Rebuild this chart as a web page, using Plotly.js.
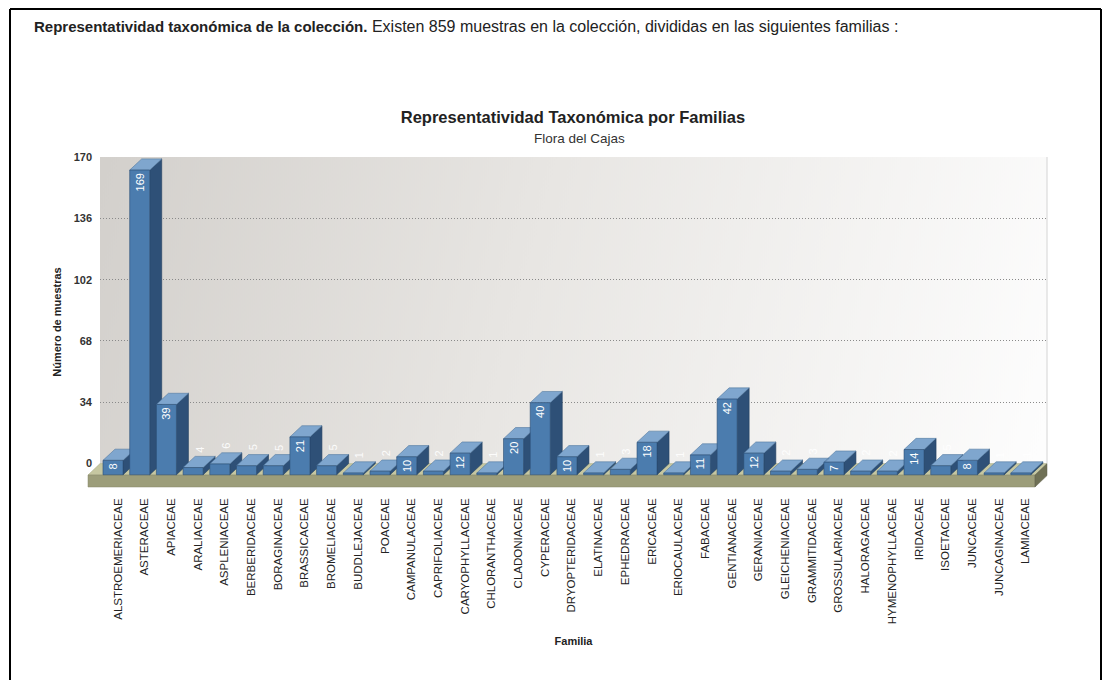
<!DOCTYPE html>
<html>
<head>
<meta charset="utf-8">
<script src="https://cdn.plot.ly/plotly-3.0.1.min.js"></script>
<style>
  html, body { margin: 0; padding: 0; background: #ffffff; }
  #chart { width: 1106px; height: 680px; }
</style>
</head>
<body>
<div id="chart"></div>
<script>
// ---------------- data ----------------
const families = [
  "ALSTROEMERIACEAE", "ASTERACEAE", "APIACEAE", "ARALIACEAE", "ASPLENIACEAE",
  "BERBERIDACEAE", "BORAGINACEAE", "BRASSICACEAE", "BROMELIACEAE", "BUDDLEJACEAE",
  "POACEAE", "CAMPANULACEAE", "CAPRIFOLIACEAE", "CARYOPHYLLACEAE", "CHLORANTHACEAE",
  "CLADONIACEAE", "CYPERACEAE", "DRYOPTERIDACEAE", "ELATINACEAE", "EPHEDRACEAE",
  "ERICACEAE", "ERIOCAULACEAE", "FABACEAE", "GENTIANACEAE", "GERANIACEAE",
  "GLEICHENIACEAE", "GRAMMITIDACEAE", "GROSSULARIACEAE", "HALORAGACEAE", "HYMENOPHYLLACEAE",
  "IRIDACEAE", "ISOETACEAE", "JUNCACEAE", "JUNCAGINACEAE", "LAMIACEAE"
];
const counts = [
  8, 169, 39, 4, 6,
  5, 5, 21, 5, 1,
  2, 10, 2, 12, 1,
  20, 40, 10, 1, 3,
  18, 1, 11, 42, 12,
  2, 3, 7, 2, 2,
  14, 5, 8, 1, 1
];
const yTickValues = [0, 34, 68, 102, 136, 170];
const totalSamples = 859;

// ---------------- geometry (styling only) ----------------
const W = 1106, H = 680;
const M = { l: 100, r: 59, t: 157, b: 193 };
const pw = W - M.l - M.r, ph = H - M.t - M.b;
const px = p => (p - M.l) / pw;          // pixel x -> paper x
const py = p => (H - M.b - p) / ph;      // pixel y -> paper y

const idx = families.map((_, i) => i);
const halfW = 0.375;     // half width of front face (category units)
const dX = 0.45;         // depth offset in x (category units)
const dY = 6.2;          // depth offset in y (value units)
const xRange = [-0.487, 34.98];
const gridRange = [-12.98, 170.05];
const barRange = [gridRange[0] + dY, gridRange[1] + dY];

// side and top faces of the 3D bars
const sideX = [], sideY = [], topX = [], topY = [];
idx.forEach(i => {
  const v = counts[i], l = i - halfW, r = i + halfW;
  sideX.push(r, r, r + dX, r + dX, r, null);
  sideY.push(0, v, v + dY, dY, 0, null);
  topX.push(l, r, r + dX, l + dX, l, null);
  topY.push(v, v, v + dY, v + dY, v, null);
});

const FONT = "Liberation Sans, Arial, Helvetica, sans-serif";

const traces = [
  // empty trace that anchors the value axis (ticks and dotted grid)
  {
    type: "scatter", mode: "markers", x: [], y: [], xaxis: "x", yaxis: "y",
    hoverinfo: "skip", showlegend: false
  },
  {
    type: "scatter", mode: "lines", x: sideX, y: sideY, xaxis: "x", yaxis: "y2",
    fill: "toself", fillcolor: "#2e5077", line: { color: "#22405f", width: 0.6 },
    hoverinfo: "skip", showlegend: false
  },
  {
    type: "scatter", mode: "lines", x: topX, y: topY, xaxis: "x", yaxis: "y2",
    fill: "toself", fillcolor: "#7fa6ce", line: { color: "#52799f", width: 0.6 },
    hoverinfo: "skip", showlegend: false
  },
  {
    type: "bar", x: idx, y: counts, xaxis: "x", yaxis: "y3", width: 0.75,
    marker: { color: "#4b7cae", line: { color: "#2c4d73", width: 0.6 } },
    text: counts.map(String),
    textposition: counts.map(v => v >= 7 ? "inside" : "none"),
    insidetextanchor: "end", textangle: -90, constraintext: "none",
    textfont: { color: "#ffffff", size: 11, family: FONT },
    hovertemplate: "%{customdata}: %{y}<extra></extra>",
    customdata: families, showlegend: false
  }
];

// faint labels above the small bars
const smallLabels = idx.filter(i => counts[i] < 7).map(i => ({
  x: i + dX / 2, y: counts[i] + dY + 1, xref: "x", yref: "y2",
  text: String(counts[i]), showarrow: false, textangle: -90,
  yanchor: "bottom", xanchor: "center",
  font: { color: "rgba(255,255,255,0.9)", size: 11, family: FONT }
}));

// background gradient for the back wall
const cv = document.createElement("canvas");
cv.width = 947; cv.height = 306;
const ctx = cv.getContext("2d");
const g = ctx.createLinearGradient(0, 0, 947, 260);
g.addColorStop(0, "#d3d0cc");
g.addColorStop(0.45, "#e8e6e3");
g.addColorStop(1, "#fdfdfd");
ctx.fillStyle = g; ctx.fillRect(0, 0, 947, 306);
const bgURL = cv.toDataURL("image/png");

const P = (pts) => "M" + pts.map(p => px(p[0]).toFixed(5) + "," + py(p[1]).toFixed(5)).join(" L") + " Z";

const shapes = [
  // floor: top face
  { type: "path", xref: "paper", yref: "paper", layer: "below",
    path: P([[88, 475], [1035, 475], [1047, 463.6], [100, 463.6]]),
    fillcolor: "#c6c7a1", line: { color: "#a9aa85", width: 0.5 } },
  // floor: front face
  { type: "path", xref: "paper", yref: "paper", layer: "below",
    path: P([[88, 475], [1035, 475], [1035, 487], [88, 487]]),
    fillcolor: "#9c9d7a", line: { color: "#85866a", width: 0.5 } },
  // floor: right face
  { type: "path", xref: "paper", yref: "paper", layer: "below",
    path: P([[1035, 475], [1047, 463.6], [1047, 475.6], [1035, 487]]),
    fillcolor: "#6f7055", line: { color: "#5e5f48", width: 0.5 } },
  // back wall right edge
  { type: "line", xref: "paper", yref: "paper", layer: "below",
    x0: px(1047), x1: px(1047), y0: py(157), y1: py(463.6),
    line: { color: "#d4d4d4", width: 1 } },
  // page frame
  { type: "line", xref: "paper", yref: "paper", x0: px(10), x1: px(10), y0: py(9), y1: py(690),
    line: { color: "#000", width: 2 } },
  { type: "line", xref: "paper", yref: "paper", x0: px(10), x1: px(1101), y0: py(9), y1: py(9),
    line: { color: "#000", width: 2 } },
  { type: "line", xref: "paper", yref: "paper", x0: px(1101), x1: px(1101), y0: py(9), y1: py(690),
    line: { color: "#000", width: 2 } }
];

const annotations = [
  { xref: "paper", yref: "paper", x: px(32), y: py(27), xanchor: "left", yanchor: "middle",
    showarrow: false, align: "left",
    text: "<b>Representatividad taxonómica de la colección.</b><span style=\"font-size:16px\"> Existen " + totalSamples +
          " muestras en la colección, divididas en las siguientes familias :</span>",
    font: { family: FONT, size: 15, color: "#222" } },
  { xref: "paper", yref: "paper", x: px(579), y: py(138), xanchor: "center", yanchor: "middle",
    showarrow: false, text: "Flora del Cajas",
    font: { family: FONT, size: 13.5, color: "#333" } }
].concat(smallLabels);

const layout = {
  width: W, height: H,
  margin: M,
  paper_bgcolor: "#ffffff", plot_bgcolor: "rgba(0,0,0,0)",
  showlegend: false,
  font: { family: FONT, color: "#333" },
  title: {
    text: "<b>Representatividad Taxonómica por Familias</b>",
    font: { family: FONT, size: 16.5, color: "#222" },
    x: px(573), xref: "paper", xanchor: "center", y: 1 - 117 / H, yref: "container", yanchor: "middle"
  },
  xaxis: {
    range: xRange, showgrid: false, zeroline: false, showline: false, ticks: "",
    tickmode: "array", tickvals: idx.map(i => i + 0.18), ticktext: families,
    tickangle: -90, ticklabelstandoff: 8,
    tickfont: { family: FONT, size: 11.5, color: "#222" },
    title: { text: "<b>Familia</b>", font: { family: FONT, size: 11, color: "#222" }, standoff: 14 },
    fixedrange: true
  },
  yaxis: {
    range: gridRange, tickmode: "array", tickvals: yTickValues,
    showgrid: true, gridcolor: "#8a8a8a", griddash: "1px,2px", gridwidth: 1,
    zeroline: true, zerolinecolor: "rgba(0,0,0,0)",
    showline: false, ticks: "", ticklabelstandoff: 7,
    tickfont: { family: FONT, size: 11, color: "#333", weight: "bold" },
    title: { text: "<b>Número de muestras</b>", font: { family: FONT, size: 11, color: "#222" }, standoff: 9 },
    fixedrange: true
  },
  yaxis2: {
    overlaying: "y", range: barRange, visible: false, showgrid: false, zeroline: false, fixedrange: true
  },
  yaxis3: {
    overlaying: "y", range: barRange, visible: false, showgrid: false, zeroline: false, fixedrange: true
  },
  bargap: 0.25,
  images: [{
    source: bgURL, xref: "paper", yref: "paper",
    x: 0, y: py(157), sizex: 1, sizey: py(157) - py(463.6),
    xanchor: "left", yanchor: "top", sizing: "stretch", layer: "below"
  }],
  shapes: shapes,
  annotations: annotations
};

Plotly.newPlot("chart", traces, layout, { displayModeBar: false, responsive: false });
</script>
</body>
</html>
